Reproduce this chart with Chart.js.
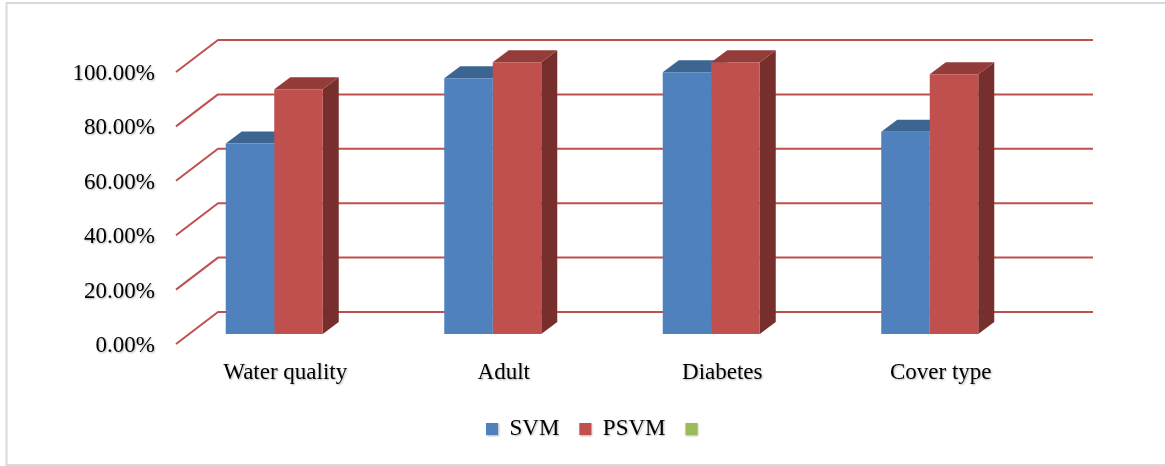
<!DOCTYPE html>
<html>
<head>
<meta charset="utf-8">
<script src="https://cdn.jsdelivr.net/npm/chart.js@4/dist/chart.umd.min.js"></script>
<style>
  html, body { margin: 0; padding: 0; background: #ffffff; }
  #wrap { width: 1165px; height: 466px; position: relative; }
  canvas { display: block; }
</style>
</head>
<body>
<div id="wrap"><canvas id="chart" width="1165" height="466"></canvas></div>
<script>
// Accuracy of SVM vs. PSVM on four datasets
const categories = ['Water quality', 'Adult', 'Diabetes', 'Cover type'];
const seriesNames = ['SVM', 'PSVM', ''];
const svmValues = [0.70, 0.94, 0.962, 0.744];
const psvmValues = [0.90, 0.999, 0.999, 0.955];
const thirdValues = [null, null, null, null];
const yTicks = [0, 0.2, 0.4, 0.6, 0.8, 1.0];

const FONT = { family: "'Liberation Serif', 'Times New Roman', serif", size: 23 };

// Depth of each bar (top and side faces)
const BAR_DEPTH = { dx: 16, dy: -12 };
// Side wall / back wall geometry relative to the plot area
const WALL = { frontDx: 11, frontDy: 10, backDx: 53, backDy: -22, rightDx: 54 };

const frame3d = {
  id: 'frame3d',
  beforeDraw(chart) {
    const ctx = chart.ctx;
    ctx.save();
    ctx.strokeStyle = '#D9D9D9';
    ctx.lineWidth = 2;
    ctx.strokeRect(6.5, 3, 1200, 462);
    ctx.restore();
    // soft text shadow for axis labels and legend (drawn before the datasets)
    ctx.shadowColor = 'rgba(0, 0, 0, 0.3)';
    ctx.shadowOffsetX = 1;
    ctx.shadowOffsetY = 1;
    ctx.shadowBlur = 2;
  },
  beforeDatasetsDraw(chart) {
    const { ctx, chartArea: { left, right }, scales: { y } } = chart;
    ctx.shadowColor = 'rgba(0, 0, 0, 0)';
    ctx.shadowOffsetX = 0;
    ctx.shadowOffsetY = 0;
    ctx.shadowBlur = 0;
    ctx.save();
    // gridlines: diagonal on the side wall, then across the back wall
    ctx.strokeStyle = '#C0504D';
    ctx.lineWidth = 2;
    ctx.lineJoin = 'round';
    yTicks.forEach(v => {
      const py = y.getPixelForValue(v);
      ctx.beginPath();
      ctx.moveTo(left + WALL.frontDx, py + WALL.frontDy);
      ctx.lineTo(left + WALL.backDx, py + WALL.backDy);
      ctx.lineTo(right + WALL.rightDx, py + WALL.backDy);
      ctx.stroke();
    });
    // top and side faces of each bar; the front faces are drawn by Chart.js over them
    const { dx, dy } = BAR_DEPTH;
    chart.data.datasets.forEach((ds, i) => {
      const meta = chart.getDatasetMeta(i);
      meta.data.forEach((bar, j) => {
        if (ds.data[j] == null) return;
        const p = bar.getProps(['x', 'y', 'base', 'width'], true);
        const l = p.x - p.width / 2, r = p.x + p.width / 2;
        ctx.fillStyle = ds.sideColor;
        ctx.beginPath();
        ctx.moveTo(r, p.y);
        ctx.lineTo(r + dx, p.y + dy);
        ctx.lineTo(r + dx, p.base + dy);
        ctx.lineTo(r, p.base);
        ctx.closePath();
        ctx.fill();
        ctx.fillStyle = ds.topColor;
        ctx.beginPath();
        ctx.moveTo(l, p.y);
        ctx.lineTo(l + dx, p.y + dy);
        ctx.lineTo(r + dx, p.y + dy);
        ctx.lineTo(r, p.y);
        ctx.closePath();
        ctx.fill();
      });
    });
    ctx.restore();
  }
};

new Chart(document.getElementById('chart'), {
  type: 'bar',
  data: {
    labels: categories,
    datasets: [
      { label: seriesNames[0], data: svmValues, backgroundColor: '#4F81BD', topColor: '#3D6592', sideColor: '#385D8A' },
      { label: seriesNames[1], data: psvmValues, backgroundColor: '#C0504D', topColor: '#943C39', sideColor: '#772F2D' },
      { label: seriesNames[2], data: thirdValues, backgroundColor: '#9BBB59', topColor: '#76923C', sideColor: '#5F7530' }
    ]
  },
  options: {
    responsive: false,
    animation: false,
    devicePixelRatio: 1,
    layout: { padding: { left: 30, top: 62, right: 0, bottom: 15.5 } },
    datasets: { bar: { skipNull: true, categoryPercentage: 0.444, barPercentage: 1.0, borderWidth: 0 } },
    plugins: {
      legend: {
        position: 'bottom',
        labels: {
          boxWidth: 12, boxHeight: 12, padding: 20,
          font: FONT, color: '#000000'
        }
      },
      tooltip: { enabled: false }
    },
    scales: {
      x: {
        grid: { display: false, drawTicks: false },
        border: { display: false },
        ticks: { font: FONT, color: '#000000', padding: 25, labelOffset: 11, maxRotation: 0 },
        afterFit(s) { s.height = 63.5; }
      },
      y: {
        min: 0, max: 1,
        grid: { display: false, drawTicks: false },
        border: { display: false },
        afterBuildTicks(s) { s.ticks = yTicks.map(v => ({ value: v })); },
        ticks: {
          font: FONT, color: '#000000', padding: 10, labelOffset: 12,
          callback: v => (v * 100).toFixed(2) + '%'
        },
        afterFit(s) { s.width = 135; }
      },
      yRight: {
        position: 'right',
        display: true,
        grid: { display: false, drawTicks: false },
        border: { display: false },
        ticks: { display: false },
        afterFit(s) { s.width = 126; }
      }
    }
  },
  plugins: [frame3d]
});
</script>
</body>
</html>
